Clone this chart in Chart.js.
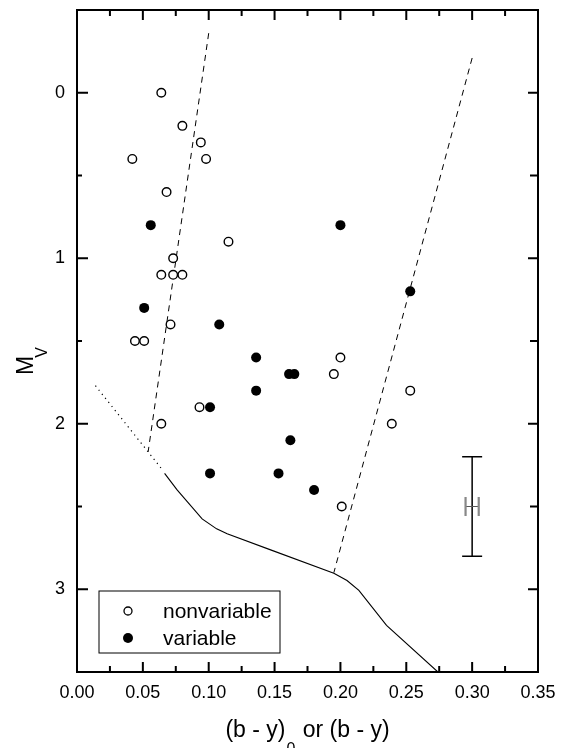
<!DOCTYPE html>
<html>
<head>
<meta charset="utf-8">
<script src="https://cdn.jsdelivr.net/npm/chart.js@4.4.1/dist/chart.umd.min.js"></script>
<style>
  body { margin: 0; background: #fff; }
  #wrap { width: 561px; height: 748px; position: relative; }
</style>
</head>
<body>
<div id="wrap"><canvas id="cmd"></canvas></div>
<script>
// open circles
const nonvarX = [0.064, 0.080, 0.094, 0.098, 0.042, 0.068, 0.115, 0.073, 0.064, 0.073, 0.080, 0.071, 0.044, 0.051, 0.200, 0.195, 0.093, 0.064, 0.253, 0.239, 0.201];
const nonvarY = [0.0, 0.2, 0.3, 0.4, 0.4, 0.6, 0.9, 1.0, 1.1, 1.1, 1.1, 1.4, 1.5, 1.5, 1.6, 1.7, 1.9, 2.0, 1.8, 2.0, 2.5];
// filled circles
const varX = [0.056, 0.200, 0.051, 0.108, 0.253, 0.136, 0.161, 0.165, 0.136, 0.101, 0.162, 0.101, 0.153, 0.180];
const varY = [0.8, 0.8, 1.3, 1.4, 1.2, 1.6, 1.7, 1.7, 1.8, 1.9, 2.1, 2.3, 2.3, 2.4];

// boundary lines
const leftDashX = [0.100, 0.054];
const leftDashY = [-0.36, 2.17];
const rightDashX = [0.300, 0.195];
const rightDashY = [-0.21, 2.90];
const dottedX = [0.014, 0.065];
const dottedY = [1.77, 2.28];
const zamsX = [0.0665, 0.076, 0.095, 0.106, 0.114, 0.147, 0.195, 0.205, 0.214, 0.235, 0.274];
const zamsY = [2.30, 2.40, 2.575, 2.635, 2.665, 2.762, 2.903, 2.947, 3.007, 3.218, 3.50];

// typical error
const errX = 0.30, errY = 2.5, errDX = 0.005, errDY = 0.3;

// ticks
const xTicks = [0, 0.05, 0.10, 0.15, 0.20, 0.25, 0.30, 0.35];
const xTickLabels = ["0.00", "0.05", "0.10", "0.15", "0.20", "0.25", "0.30", "0.35"];
const xMinorTicks = [0.025, 0.075, 0.125, 0.175, 0.225, 0.275, 0.325];
const yTicks = [0, 1, 2, 3];
const yTickLabels = ["0", "1", "2", "3"];
const yMinorTicks = [0.5, 1.5, 2.5];

const legendLabels = ["nonvariable", "variable"];

function pts(xs, ys) {
    return xs.map((v, i) => ({x: v, y: ys[i]}));
}

const FONT = "'Liberation Sans', Arial, sans-serif";

const framePlugin = {
    id: "frame",
    afterDraw(chart) {
        const {ctx, chartArea: a, scales: {x, y}} = chart;
        ctx.save();
        ctx.strokeStyle = "#000";
        ctx.fillStyle = "#000";

        // error bar
        const ex = x.getPixelForValue(errX), ey = y.getPixelForValue(errY);
        const y1 = y.getPixelForValue(errY - errDY), y2 = y.getPixelForValue(errY + errDY);
        const x1 = x.getPixelForValue(errX - errDX), x2 = x.getPixelForValue(errX + errDX);
        ctx.lineWidth = 1.5;
        ctx.beginPath();
        ctx.moveTo(ex, y1); ctx.lineTo(ex, y2);
        ctx.moveTo(ex - 10, y1); ctx.lineTo(ex + 10, y1);
        ctx.moveTo(ex - 10, y2); ctx.lineTo(ex + 10, y2);
        ctx.stroke();
        ctx.strokeStyle = "#555";
        ctx.lineWidth = 1;
        ctx.beginPath();
        ctx.moveTo(x1, ey); ctx.lineTo(x2, ey);
        ctx.stroke();
        ctx.strokeStyle = "#888";
        ctx.lineWidth = 2.2;
        ctx.beginPath();
        ctx.moveTo(x1, ey - 9.5); ctx.lineTo(x1, ey + 9.5);
        ctx.moveTo(x2, ey - 9.5); ctx.lineTo(x2, ey + 9.5);
        ctx.stroke();

        // frame and inward ticks
        ctx.strokeStyle = "#000";
        ctx.lineWidth = 2;
        ctx.strokeRect(a.left, a.top, a.right - a.left, a.bottom - a.top);
        ctx.beginPath();
        xTicks.forEach(v => {
            const px = x.getPixelForValue(v);
            ctx.moveTo(px, a.bottom); ctx.lineTo(px, a.bottom - 10);
            ctx.moveTo(px, a.top); ctx.lineTo(px, a.top + 10);
        });
        xMinorTicks.forEach(v => {
            const px = x.getPixelForValue(v);
            ctx.moveTo(px, a.bottom); ctx.lineTo(px, a.bottom - 6);
            ctx.moveTo(px, a.top); ctx.lineTo(px, a.top + 6);
        });
        yTicks.forEach(v => {
            const py = y.getPixelForValue(v);
            ctx.moveTo(a.left, py); ctx.lineTo(a.left + 11, py);
            ctx.moveTo(a.right, py); ctx.lineTo(a.right - 10, py);
        });
        yMinorTicks.forEach(v => {
            const py = y.getPixelForValue(v);
            ctx.moveTo(a.left, py); ctx.lineTo(a.left + 5, py);
            ctx.moveTo(a.right, py); ctx.lineTo(a.right - 8, py);
        });
        ctx.stroke();

        // legend box
        const lx = a.left + 22, ly = a.bottom - 81;
        ctx.lineWidth = 1;
        ctx.strokeRect(lx, ly, 181, 62);
        ctx.lineWidth = 1.3;
        ctx.beginPath();
        ctx.arc(lx + 29, ly + 20, 4, 0, Math.PI * 2);
        ctx.fillStyle = "#fff";
        ctx.fill();
        ctx.stroke();
        ctx.fillStyle = "#000";
        ctx.beginPath();
        ctx.arc(lx + 29, ly + 47, 5, 0, Math.PI * 2);
        ctx.fill();
        ctx.font = "21px " + FONT;
        ctx.textBaseline = "middle";
        ctx.textAlign = "left";
        ctx.fillText(legendLabels[0], lx + 64, ly + 21);
        ctx.fillText(legendLabels[1], lx + 64, ly + 48);

        // x title with subscript
        const cx = (a.left + a.right) / 2;
        ctx.textBaseline = "alphabetic";
        ctx.font = "23px " + FONT;
        const t1 = "(b - y)", t2 = " or (b - y)";
        const w1 = ctx.measureText(t1).width, w2 = ctx.measureText(t2).width;
        ctx.font = "16px " + FONT;
        const ws = ctx.measureText("0").width;
        let sx = cx - (w1 + ws + w2 + 2) / 2;
        ctx.font = "23px " + FONT;
        ctx.fillText(t1, sx, 737);
        ctx.font = "16px " + FONT;
        ctx.fillText("0", sx + w1 + 1, 754);
        ctx.font = "23px " + FONT;
        ctx.fillText(t2, sx + w1 + ws + 2, 737);

        // y title with subscript
        ctx.translate(33, (a.top + a.bottom) / 2 + 34);
        ctx.rotate(-Math.PI / 2);
        ctx.font = "23px " + FONT;
        ctx.fillText("M", 0, 0);
        const wm = ctx.measureText("M").width;
        ctx.font = "16px " + FONT;
        ctx.fillText("V", wm - 2, 14);
        ctx.restore();
    }
};

const ctx = document.getElementById("cmd");

new Chart(ctx, {
    type: "scatter",
    data: {
        datasets: [
            {
                label: "nonvariable",
                data: pts(nonvarX, nonvarY),
                pointRadius: 4.3,
                pointBorderWidth: 1.4,
                pointBackgroundColor: "#fff",
                pointBorderColor: "#000"
            },
            {
                label: "variable",
                data: pts(varX, varY),
                pointRadius: 5,
                pointBorderWidth: 0,
                pointBackgroundColor: "#000",
                pointBorderColor: "#000"
            },
            {
                type: "line",
                data: pts(zamsX, zamsY),
                borderColor: "#000",
                borderWidth: 1.1,
                pointRadius: 0,
                fill: false
            },
            {
                type: "line",
                data: pts(leftDashX, leftDashY),
                borderColor: "#000",
                borderWidth: 1,
                borderDash: [6, 5],
                pointRadius: 0,
                fill: false
            },
            {
                type: "line",
                data: pts(rightDashX, rightDashY),
                borderColor: "#000",
                borderWidth: 1,
                borderDash: [6, 5],
                pointRadius: 0,
                fill: false
            },
            {
                type: "line",
                data: pts(dottedX, dottedY),
                borderColor: "#000",
                borderWidth: 1.2,
                borderDash: [1.2, 4],
                pointRadius: 0,
                fill: false
            }
        ]
    },
    options: {
        responsive: true,
        maintainAspectRatio: false,
        animation: false,
        devicePixelRatio: 1,
        layout: {
            autoPadding: false,
            padding: {left: 0, right: 23, top: 10, bottom: 0}
        },
        plugins: {
            legend: {display: false},
            tooltip: {enabled: false}
        },
        scales: {
            x: {
                type: "linear",
                min: 0,
                max: 0.35,
                grid: {display: false, drawTicks: false},
                border: {display: false},
                afterBuildTicks: s => { s.ticks = xTicks.map(v => ({value: v})); },
                afterFit: s => {
                    s.height = 76;
                    s.paddingLeft = 0;
                    s.paddingRight = 0;
                },
                ticks: {
                    color: "#000",
                    padding: 10,
                    font: {family: FONT, size: 18},
                    callback: (v, i) => xTickLabels[i]
                }
            },
            y: {
                type: "linear",
                reverse: true,
                min: -0.5,
                max: 3.5,
                grid: {display: false, drawTicks: false},
                border: {display: false},
                afterBuildTicks: s => { s.ticks = yTicks.map(v => ({value: v})); },
                afterFit: s => {
                    s.width = 77;
                    s.paddingTop = 0;
                    s.paddingBottom = 0;
                },
                ticks: {
                    color: "#000",
                    padding: 12,
                    font: {family: FONT, size: 18, lineHeight: 1},
                    callback: (v, i) => yTickLabels[i]
                }
            }
        }
    },
    plugins: [framePlugin]
});
</script>
</body>
</html>
